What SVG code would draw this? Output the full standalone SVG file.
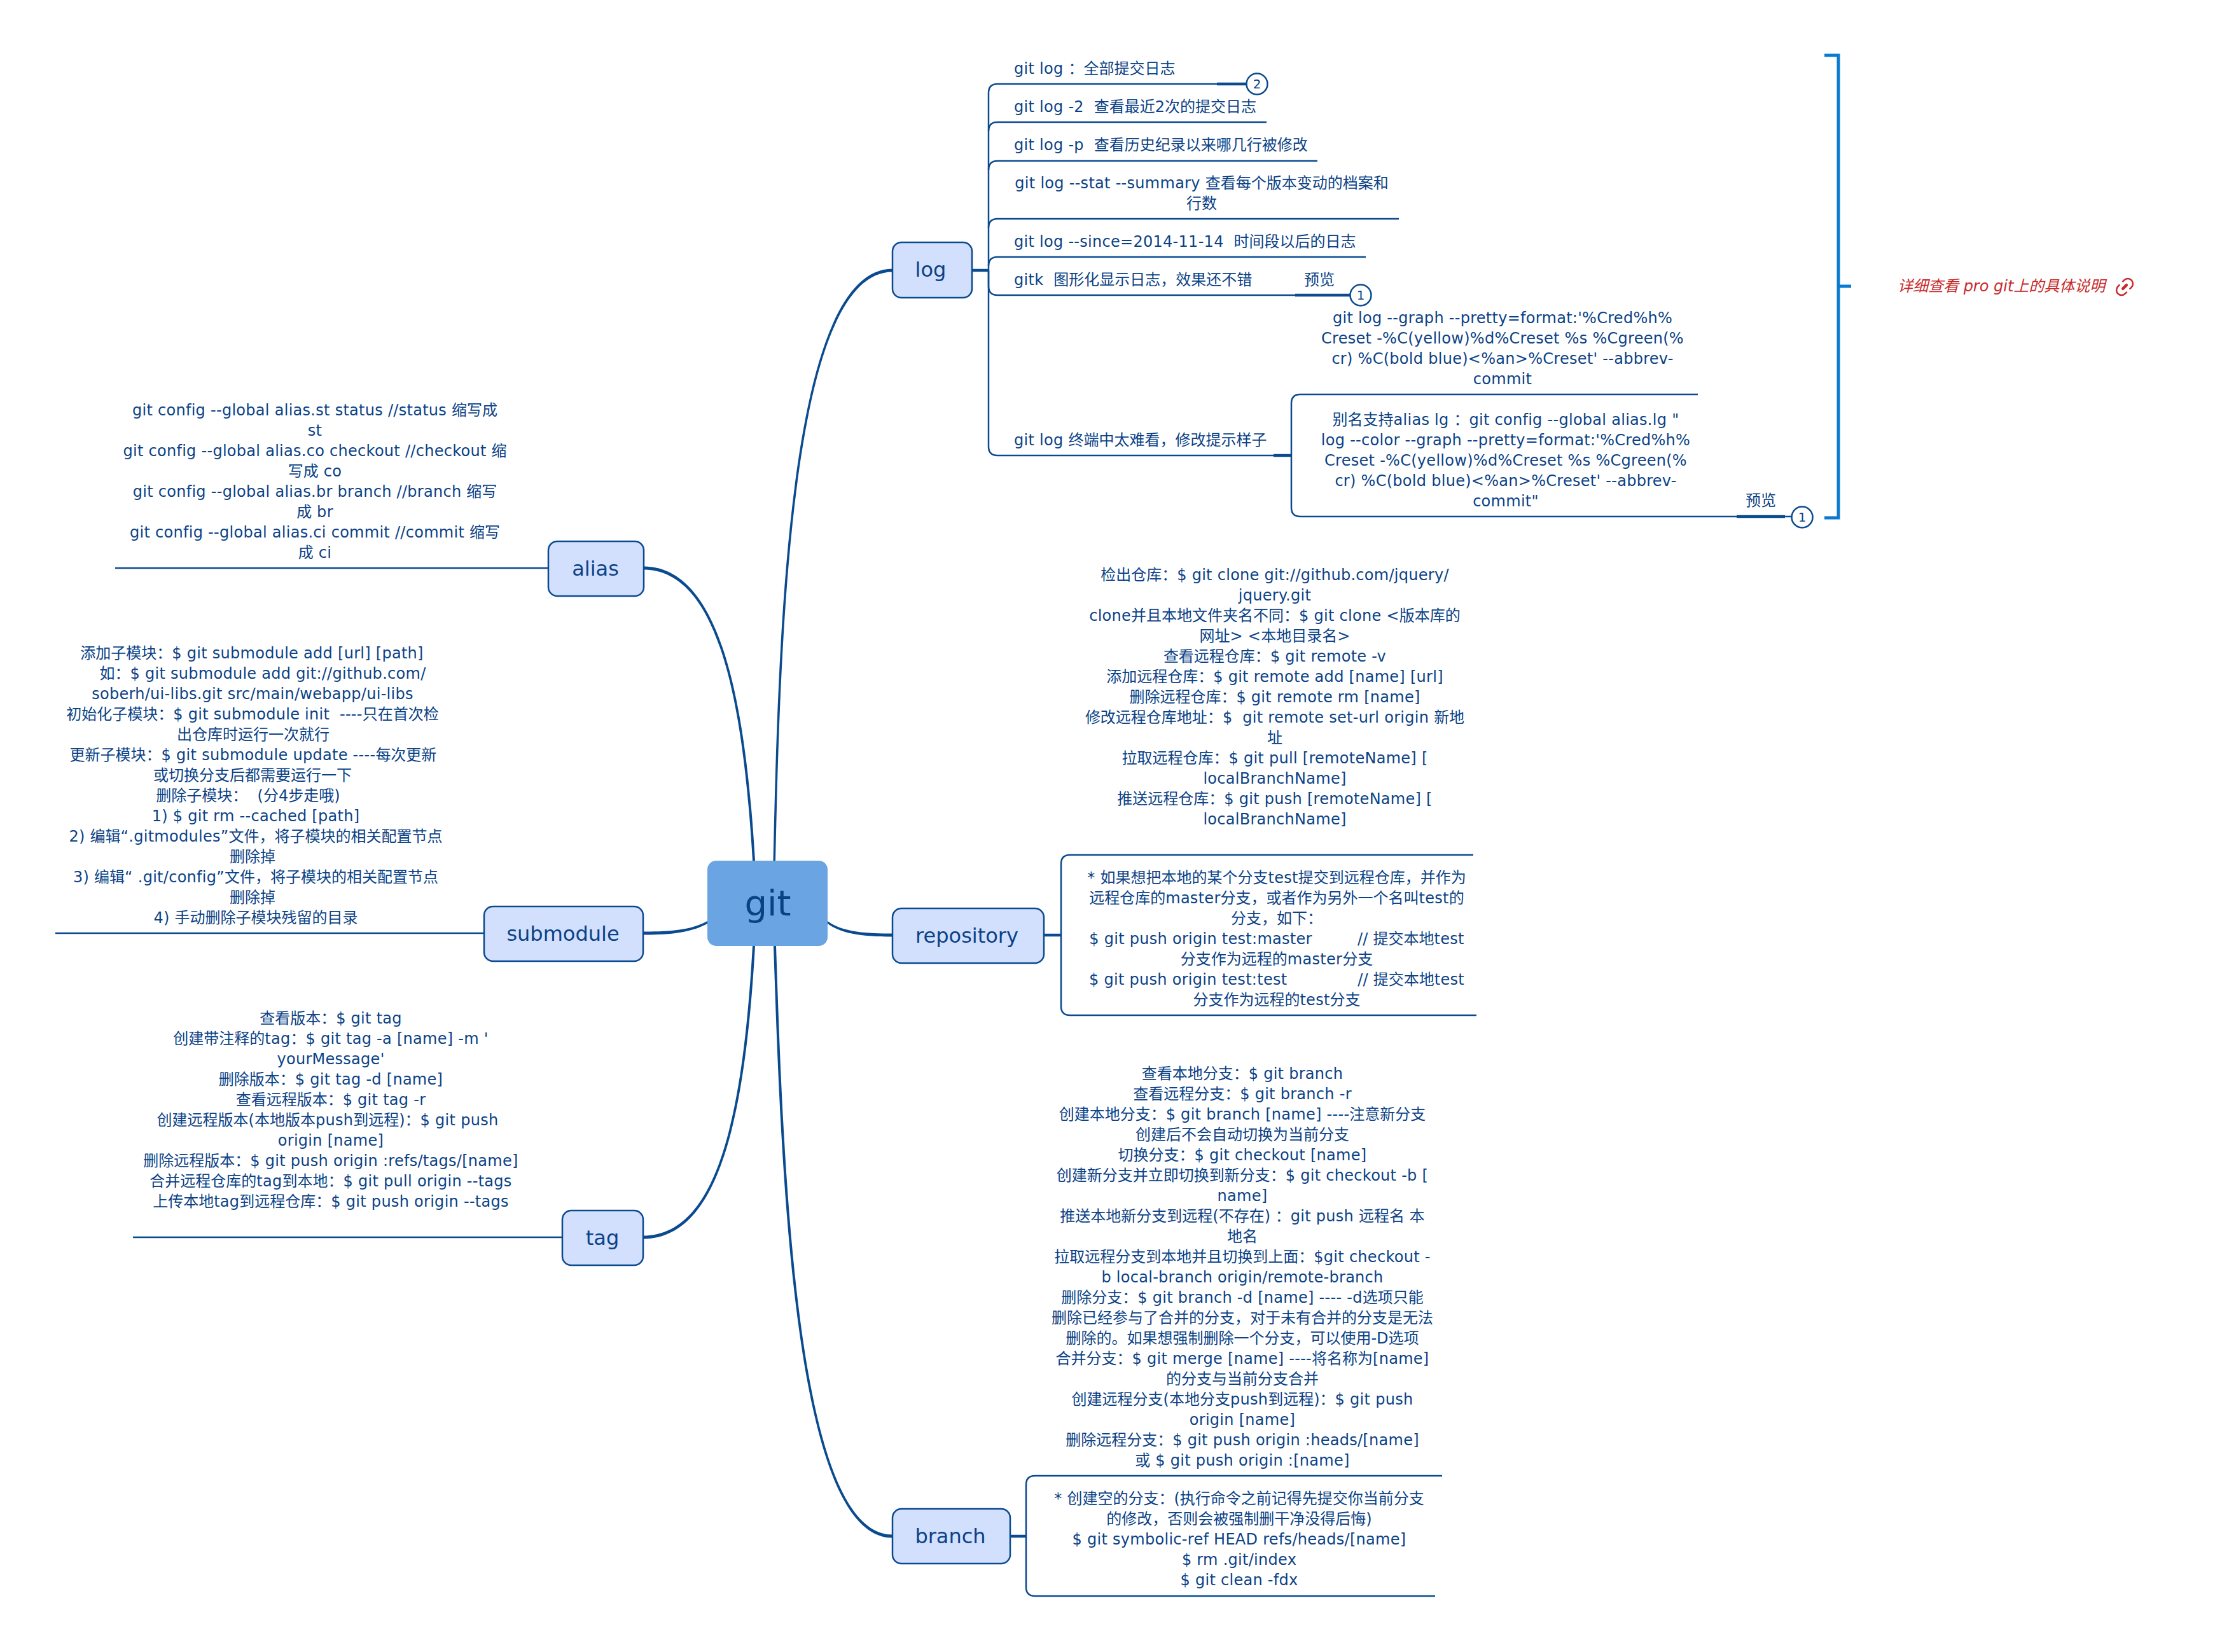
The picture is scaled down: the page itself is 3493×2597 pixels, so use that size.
<svg xmlns="http://www.w3.org/2000/svg" width="3493" height="2597" viewBox="0 0 3493 2597">
<style>
text{font-family:"DejaVu Sans","Noto Sans CJK SC",sans-serif;font-size:24px;fill:#0b4286;white-space:pre;letter-spacing:.28px}
.z{letter-spacing:0}
.m{text-anchor:middle}
.n{font-size:32px;text-anchor:middle;letter-spacing:0}
.box{fill:#d2dffd;stroke:#0a4a8f;stroke-width:2.5}
.l,.t{fill:none;stroke:#0a4a8f}
.l{stroke-width:2.5}
.t{stroke-width:4.5}
.c{fill:#0a4a8f}
.k{fill:#fff;stroke:#0a4a8f;stroke-width:2.5}
.d{font-size:20px;text-anchor:middle;letter-spacing:0}
.b{fill:none;stroke:#0a7ad1;stroke-width:5}
</style>
<rect width="3493" height="2597" fill="#fff"/>
<g id="connectors">
<path class="c" d="M1215.5 1353C1223.5 1000 1238 422.5 1403 422.5V427.5C1242 427.5 1227 1000 1219 1353Z"/>
<path class="c" d="M1183 1353C1168 1100 1129 895.5 1011 895.5V890.5C1132 890.5 1172 1100 1187 1353Z"/>
<path class="c" d="M1112 1448C1085 1463 1050 1464.5 1011 1464.5V1469.5C1050 1469.5 1085 1467 1112 1452Z"/>
<path class="c" d="M1183 1487C1168 1750 1129 1942.5 1011 1942.5V1947.5C1132 1947.5 1172 1750 1187 1487Z"/>
<path class="c" d="M1301 1448C1325 1466 1365 1467.5 1403 1467.5V1472.5C1365 1472.5 1325 1470 1301 1452Z"/>
<path class="c" d="M1216 1487C1228 1850 1248 2417.5 1403 2417.5V2412.5C1252 2412.5 1232 1850 1220 1487Z"/>
<path class="t" d="M1528 425H1554"/>
<path class="l" d="M1554 425V146Q1554 132 1568 132H1960"/>
<path class="l" d="M1554 206Q1554 192 1568 192H1991"/>
<path class="l" d="M1554 267Q1554 253 1568 253H2071"/>
<path class="l" d="M1554 358Q1554 344 1568 344H2199"/>
<path class="l" d="M1554 418Q1554 404 1568 404H2147"/>
<path class="l" d="M1554 425V450Q1554 464 1568 464H2122"/>
<path class="l" d="M1554 425V702Q1554 716 1568 716H2030"/>
<path class="t" d="M1913 132H1960"/>
<path class="t" d="M2036 464H2122"/>
<path class="t" d="M2002 716H2030"/>
<path class="l" d="M2669 620H2044Q2030 620 2030 634V798Q2030 812 2044 812H2816"/>
<path class="t" d="M2730 812H2806"/>
<path class="t" d="M1641 1470H1668"/>
<path class="l" d="M2316 1344H1682Q1668 1344 1668 1358V1582Q1668 1596 1682 1596H2321"/>
<path class="t" d="M1588 2415H1613"/>
<path class="l" d="M2267 2320H1627Q1613 2320 1613 2334V2495Q1613 2509 1627 2509H2256"/>
<path class="l" d="M181 893H862"/>
<path class="l" d="M87 1467H761"/>
<path class="l" d="M209 1945H884"/>
</g>
<g id="node-git">
<rect x="1112" y="1353" width="189" height="134" rx="14" fill="#6ba4e2"/>
<text x="1207" y="1439" style="font-size:56px;text-anchor:middle;letter-spacing:0">git</text>
</g>
<g id="node-log">
<rect class="box" x="1403" y="381" width="125" height="87" rx="14"/>
<text class="n" x="1463" y="435">log</text>
</g>
<g id="log-1"><text x="1594" y="116">git log <tspan class="z">：全部提交日志</tspan></text></g>
<g id="log-2"><text x="1594" y="176">git log -2  <tspan class="z">查看最近2次的提交日志</tspan></text></g>
<g id="log-3"><text x="1594" y="236">git log -p  <tspan class="z">查看历史纪录以来哪几行被修改</tspan></text></g>
<g id="log-4"><text class="m"><tspan x="1889" y="296">git log --stat --summary <tspan class="z">查看每个版本变动的档案和</tspan></tspan><tspan class="z" x="1889" y="328">行数</tspan></text></g>
<g id="log-5"><text x="1594" y="388">git log --since=2014-11-14  <tspan class="z">时间段以后的日志</tspan></text></g>
<g id="log-6"><text x="1594" y="448">gitk  <tspan class="z">图形化显示日志，效果还不错</tspan></text><text class="z" x="2050" y="448">预览</text></g>
<g id="log-7"><text x="1594" y="700">git log <tspan class="z">终端中太难看，修改提示样子</tspan></text></g>
<g id="log-7-a"><text class="m"><tspan x="2362" y="508">git log --graph --pretty=format:'%Cred%h%</tspan><tspan x="2362" y="540">Creset -%C(yellow)%d%Creset %s %Cgreen(%</tspan><tspan x="2362" y="572">cr) %C(bold blue)&lt;%an&gt;%Creset' --abbrev-</tspan><tspan x="2362" y="604">commit</tspan></text></g>
<g id="log-7-b"><text class="m"><tspan x="2367" y="668"><tspan class="z">别名支持</tspan>alias lg <tspan class="z">：</tspan>git config --global alias.lg "</tspan><tspan x="2367" y="700">log --color --graph --pretty=format:'%Cred%h%</tspan><tspan x="2367" y="732">Creset -%C(yellow)%d%Creset %s %Cgreen(%</tspan><tspan x="2367" y="764">cr) %C(bold blue)&lt;%an&gt;%Creset' --abbrev-</tspan><tspan x="2367" y="796">commit"</tspan></text><text class="z" x="2744" y="795">预览</text></g>
<g id="marker-2"><circle class="k" cx="1976" cy="132" r="16.5"/><text class="d" x="1976" y="139">2</text></g>
<g id="marker-1a"><circle class="k" cx="2139" cy="464" r="16.5"/><text class="d" x="2139" y="471">1</text></g>
<g id="marker-1b"><circle class="k" cx="2833" cy="813" r="16.5"/><text class="d" x="2833" y="820">1</text></g>
<g id="summary"><path class="b" d="M2868 87H2890V814H2868M2890 450H2910"/></g>
<g id="summary-label"><text class="z" x="2983" y="458" style="fill:#c8282a;font-style:italic">详细查看 pro git上的具体说明</text>
<g transform="translate(3340 451) rotate(-45)" fill="none" stroke="#c8282a" stroke-width="2.5"><path d="M-3-8H-7A8 8 0 0 0-7 8H-3M3-8H7A8 8 0 0 1 7 8H3"/><path d="M-4 0H4" stroke-width="4.5" stroke-linecap="round"/></g></g>
<g id="node-alias">
<rect class="box" x="862" y="851" width="150" height="86" rx="14"/>
<text class="n" x="936" y="905">alias</text>
</g>
<g id="alias-1"><text class="m"><tspan x="495" y="653">git config --global alias.st status //status <tspan class="z">缩写成</tspan></tspan><tspan x="495" y="685">st</tspan><tspan x="495" y="717">git config --global alias.co checkout //checkout <tspan class="z">缩</tspan></tspan><tspan x="495" y="749"><tspan class="z">写成</tspan> co</tspan><tspan x="495" y="781">git config --global alias.br branch //branch <tspan class="z">缩写</tspan></tspan><tspan x="495" y="813"><tspan class="z">成</tspan> br</tspan><tspan x="495" y="845">git config --global alias.ci commit //commit <tspan class="z">缩写</tspan></tspan><tspan x="495" y="877"><tspan class="z">成</tspan> ci</tspan></text></g>
<g id="node-submodule">
<rect class="box" x="761" y="1425" width="250" height="86" rx="14"/>
<text class="n" x="885" y="1479">submodule</text>
</g>
<g id="submodule-1"><text class="m"><tspan x="396" y="1035"><tspan class="z">添加子模块：</tspan>$ git submodule add [url] [path]</tspan><tspan x="413" y="1067"><tspan class="z">如：</tspan>$ git submodule add git://github.com/</tspan><tspan x="397" y="1099">soberh/ui-libs.git src/main/webapp/ui-libs</tspan><tspan x="397" y="1131"><tspan class="z">初始化子模块：</tspan>$ git submodule init  ----<tspan class="z">只在首次检</tspan></tspan><tspan class="z" x="398" y="1163">出仓库时运行一次就行</tspan><tspan x="398" y="1195"><tspan class="z">更新子模块：</tspan>$ git submodule update ----<tspan class="z">每次更新</tspan></tspan><tspan class="z" x="397" y="1227">或切换分支后都需要运行一下</tspan><tspan class="z" x="390" y="1259">删除子模块：  (分4步走哦)</tspan><tspan x="402" y="1291">1) $ git rm --cached [path]</tspan><tspan x="402" y="1323">2) <tspan class="z">编辑</tspan>“.gitmodules”<tspan class="z">文件，将子模块的相关配置节点</tspan></tspan><tspan class="z" x="397" y="1355">删除掉</tspan><tspan x="402" y="1387">3) <tspan class="z">编辑</tspan>“ .git/config”<tspan class="z">文件，将子模块的相关配置节点</tspan></tspan><tspan class="z" x="397" y="1419">删除掉</tspan><tspan x="402" y="1451">4) <tspan class="z">手动删除子模块残留的目录</tspan></tspan></text></g>
<g id="node-tag">
<rect class="box" x="884" y="1903" width="127" height="86" rx="14"/>
<text class="n" x="947" y="1957">tag</text>
</g>
<g id="tag-1"><text class="m"><tspan x="520" y="1609"><tspan class="z">查看版本：</tspan>$ git tag</tspan><tspan x="520" y="1641"><tspan class="z">创建带注释的</tspan>tag<tspan class="z">：</tspan>$ git tag -a [name] -m '</tspan><tspan x="520" y="1673">yourMessage'</tspan><tspan x="520" y="1705"><tspan class="z">删除版本：</tspan>$ git tag -d [name]</tspan><tspan x="520" y="1737"><tspan class="z">查看远程版本：</tspan>$ git tag -r</tspan><tspan x="515" y="1769"><tspan class="z">创建远程版本(本地版本</tspan>push<tspan class="z">到远程)：</tspan>$ git push</tspan><tspan x="520" y="1801">origin [name]</tspan><tspan x="520" y="1833"><tspan class="z">删除远程版本：</tspan>$ git push origin :refs/tags/[name]</tspan><tspan x="520" y="1865"><tspan class="z">合并远程仓库的</tspan>tag<tspan class="z">到本地：</tspan>$ git pull origin --tags</tspan><tspan x="520" y="1897"><tspan class="z">上传本地</tspan>tag<tspan class="z">到远程仓库：</tspan>$ git push origin --tags</tspan></text></g>
<g id="node-repository">
<rect class="box" x="1403" y="1428" width="238" height="86" rx="14"/>
<text class="n" x="1520" y="1482">repository</text>
</g>
<g id="repository-1"><text class="m"><tspan x="2004" y="912"><tspan class="z">检出仓库：</tspan>$ git clone git://github.com/jquery/</tspan><tspan x="2004" y="944">jquery.git</tspan><tspan x="2004" y="976">clone<tspan class="z">并且本地文件夹名不同：</tspan>$ git clone &lt;<tspan class="z">版本库的</tspan></tspan><tspan x="2004" y="1008"><tspan class="z">网址</tspan>&gt; &lt;<tspan class="z">本地目录名</tspan>&gt;</tspan><tspan x="2004" y="1040"><tspan class="z">查看远程仓库：</tspan>$ git remote -v</tspan><tspan x="2004" y="1072"><tspan class="z">添加远程仓库：</tspan>$ git remote add [name] [url]</tspan><tspan x="2004" y="1104"><tspan class="z">删除远程仓库：</tspan>$ git remote rm [name]</tspan><tspan x="2004" y="1136"><tspan class="z">修改远程仓库地址：</tspan>$  git remote set-url origin <tspan class="z">新地</tspan></tspan><tspan class="z" x="2004" y="1168">址</tspan><tspan x="2004" y="1200"><tspan class="z">拉取远程仓库：</tspan>$ git pull [remoteName] [</tspan><tspan x="2004" y="1232">localBranchName]</tspan><tspan x="2004" y="1264"><tspan class="z">推送远程仓库：</tspan>$ git push [remoteName] [</tspan><tspan x="2004" y="1296">localBranchName]</tspan></text></g>
<g id="repository-2"><text class="m"><tspan x="2007" y="1388">* <tspan class="z">如果想把本地的某个分支</tspan>test<tspan class="z">提交到远程仓库，并作为</tspan></tspan><tspan x="2007" y="1420"><tspan class="z">远程仓库的</tspan>master<tspan class="z">分支，或者作为另外一个名叫</tspan>test<tspan class="z">的</tspan></tspan><tspan class="z" x="2007" y="1452">分支，如下：</tspan><tspan x="2007" y="1484">$ git push origin test:master         // <tspan class="z">提交本地</tspan>test</tspan><tspan x="2007" y="1516"><tspan class="z">分支作为远程的</tspan>master<tspan class="z">分支</tspan></tspan><tspan x="2007" y="1548">$ git push origin test:test              // <tspan class="z">提交本地</tspan>test</tspan><tspan x="2007" y="1580"><tspan class="z">分支作为远程的</tspan>test<tspan class="z">分支</tspan></tspan></text></g>
<g id="node-branch">
<rect class="box" x="1403" y="2372" width="185" height="86" rx="14"/>
<text class="n" x="1494" y="2426">branch</text>
</g>
<g id="branch-1"><text class="m"><tspan x="1953" y="1696"><tspan class="z">查看本地分支：</tspan>$ git branch</tspan><tspan x="1953" y="1728"><tspan class="z">查看远程分支：</tspan>$ git branch -r</tspan><tspan x="1953" y="1760"><tspan class="z">创建本地分支：</tspan>$ git branch [name] ----<tspan class="z">注意新分支</tspan></tspan><tspan class="z" x="1953" y="1792">创建后不会自动切换为当前分支</tspan><tspan x="1953" y="1824"><tspan class="z">切换分支：</tspan>$ git checkout [name]</tspan><tspan x="1953" y="1856"><tspan class="z">创建新分支并立即切换到新分支：</tspan>$ git checkout -b [</tspan><tspan x="1953" y="1888">name]</tspan><tspan x="1953" y="1920"><tspan class="z">推送本地新分支到远程(不存在) ：</tspan>git push <tspan class="z">远程名 本</tspan></tspan><tspan class="z" x="1953" y="1952">地名</tspan><tspan x="1953" y="1984"><tspan class="z">拉取远程分支到本地并且切换到上面：</tspan>$git checkout -</tspan><tspan x="1953" y="2016">b local-branch origin/remote-branch</tspan><tspan x="1953" y="2048"><tspan class="z">删除分支：</tspan>$ git branch -d [name] ---- -d<tspan class="z">选项只能</tspan></tspan><tspan class="z" x="1953" y="2080">删除已经参与了合并的分支，对于未有合并的分支是无法</tspan><tspan class="z" x="1953" y="2112">删除的。如果想强制删除一个分支，可以使用-D选项</tspan><tspan x="1953" y="2144"><tspan class="z">合并分支：</tspan>$ git merge [name] ----<tspan class="z">将名称为</tspan>[name]</tspan><tspan class="z" x="1953" y="2176">的分支与当前分支合并</tspan><tspan x="1953" y="2208"><tspan class="z">创建远程分支(本地分支</tspan>push<tspan class="z">到远程)：</tspan>$ git push</tspan><tspan x="1953" y="2240">origin [name]</tspan><tspan x="1953" y="2272"><tspan class="z">删除远程分支：</tspan>$ git push origin :heads/[name]</tspan><tspan x="1953" y="2304"><tspan class="z">或</tspan> $ git push origin :[name]</tspan></text></g>
<g id="branch-2"><text class="m"><tspan x="1948" y="2364">* <tspan class="z">创建空的分支：(执行命令之前记得先提交你当前分支</tspan></tspan><tspan class="z" x="1948" y="2396">的修改，否则会被强制删干净没得后悔)</tspan><tspan x="1948" y="2428">$ git symbolic-ref HEAD refs/heads/[name]</tspan><tspan x="1948" y="2460">$ rm .git/index</tspan><tspan x="1948" y="2492">$ git clean -fdx</tspan></text></g>
</svg>
